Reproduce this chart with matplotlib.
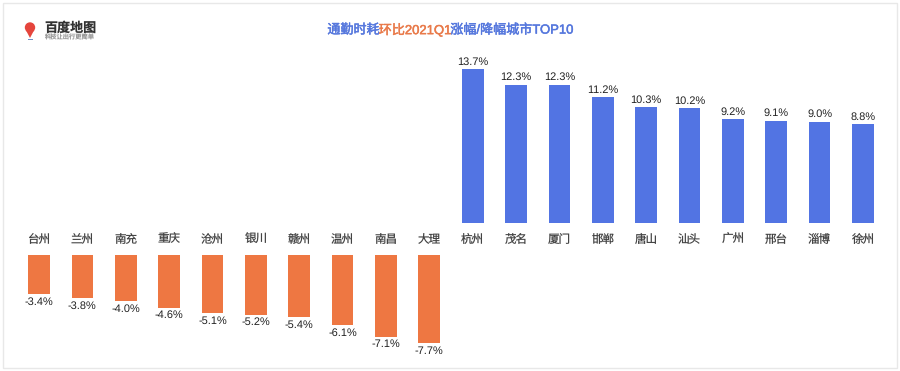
import matplotlib
matplotlib.use('Agg')
import matplotlib.pyplot as plt
import matplotlib.patheffects as pe
from matplotlib.patches import Rectangle, Polygon, Circle

plt.rcParams['font.family'] = ['Liberation Sans', 'Noto Sans CJK SC']
plt.rcParams['text.hinting'] = 'no_hinting'
plt.rcParams['text.hinting_factor'] = 1

down_cities = ['台州', '兰州', '南充', '重庆', '沧州', '银川', '赣州', '温州', '南昌', '大理']
down_values = [-3.4, -3.8, -4.0, -4.6, -5.1, -5.2, -5.4, -6.1, -7.1, -7.7]
up_cities = ['杭州', '茂名', '厦门', '邯郸', '唐山', '汕头', '广州', '邢台', '淄博', '徐州']
up_values = [13.7, 12.3, 12.3, 11.2, 10.3, 10.2, 9.2, 9.1, 9.0, 8.8]

title_parts = [('通勤时耗', '#5577dd'), ('环比2021Q1', '#e97a4a'), ('涨幅/降幅城市TOP10', '#5577dd')]

W, H = 900, 371
BLUE = '#5274e3'
ORANGE = '#ee7742'


def axes_px(left, top, right, bottom):
    return fig.add_axes([left / W, 1 - bottom / H, (right - left) / W, (bottom - top) / H])


fig = plt.figure(figsize=(9, 3.71), dpi=100, facecolor='white')

# frame round the whole picture
bg = fig.add_axes([0, 0, 1, 1])
bg.set_xlim(0, W)
bg.set_ylim(H, 0)
bg.axis('off')
bg.add_patch(Rectangle((2.5, 2.5), 894.5, 365.5, fill=False, ec='#e8e8e8', lw=1))

# positive bars
up_ax = axes_px(17.3, 65.7, 884.7, 222.5)
up_x = list(range(10, 20))
up_ax.bar(up_x, up_values, width=0.5, color=BLUE)
up_ax.set_xlim(-0.5, 19.5)
up_ax.set_ylim(0, 14)
up_ax.axis('off')
for x, v in zip(up_x, up_values):
    up_ax.annotate(f'{v:.1f}%', (x, v), xytext=(0, 1.5), textcoords='offset points',
                   ha='center', va='bottom', fontsize=7.6, color='#222222')
for x, c in zip(up_x, up_cities):
    up_ax.annotate(c, (x, 0), xytext=(0, -14.8), textcoords='offset points',
                   ha='center', va='baseline', fontsize=8.3, color='#444444')

# negative bars
down_ax = axes_px(17.3, 254.5, 884.7, 346.9)
down_x = list(range(10))
down_ax.bar(down_x, down_values, width=0.5, color=ORANGE)
down_ax.set_xlim(-0.5, 19.5)
down_ax.set_ylim(-8, 0)
down_ax.axis('off')
for x, v in zip(down_x, down_values):
    down_ax.annotate(f'{v:.1f}%', (x, v), xytext=(0, -2), textcoords='offset points',
                     ha='center', va='top', fontsize=7.6, color='#222222')
for x, c in zip(down_x, down_cities):
    down_ax.annotate(c, (x, 0), xytext=(0, 8.3), textcoords='offset points',
                     ha='center', va='baseline', fontsize=8.3, color='#444444')

# title is three colours, so place the pieces one after another
fig.canvas.draw()
renderer = fig.canvas.get_renderer()
pieces = [bg.text(0, 30, s, color=c, fontsize=9.4, fontweight='medium', va='center',
                  path_effects=[pe.withStroke(linewidth=0.35, foreground=c)]) for s, c in title_parts]
widths = [p.get_window_extent(renderer).width - 0.8 for p in pieces]
x = 450 - sum(widths) / 2
for p, w in zip(pieces, widths):
    p.set_x(x)
    x += w

# logo
bg.add_patch(Polygon([[25.8, 30], [34.2, 30], [30, 38]], color='#e5453c', lw=0))
bg.add_patch(Circle((30, 27.5), 5.2, color='#e5453c', lw=0))
bg.add_patch(Rectangle((27.5, 38.5), 5, 1.5, color='#6f8fc9', lw=0))
bg.text(44.5, 28, '百度地图', fontsize=9.4, fontweight='bold', color='#333333', va='center')
bg.text(44.5, 37.5, '科技让出行更简单', fontsize=4.5, color='#999999', va='center')

fig.savefig('out.png', dpi=100)
